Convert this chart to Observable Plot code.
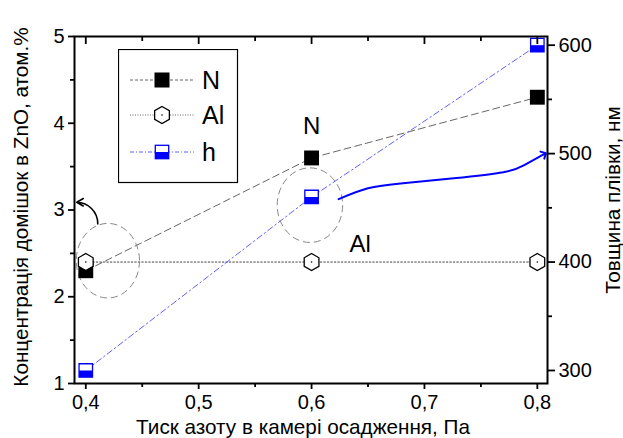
<!DOCTYPE html>
<html><head><meta charset="utf-8">
<script src="https://cdn.jsdelivr.net/npm/d3@7"></script>
<script src="https://cdn.jsdelivr.net/npm/@observablehq/plot@0.6"></script>
<style>
body{margin:0;background:#fff;font-family:"Liberation Sans",Arial,sans-serif;}
#wrap{position:relative;width:623px;height:438px;}
#legend{position:absolute;left:118px;top:49px;}
</style></head><body><div id="wrap"></div>
<script>
// ---- data ----
const pressure = [0.4, 0.6, 0.8];          // Pa
const nConc = [2.3, 3.6, 4.3];             // at.%
const alConc = [2.4, 2.4, 2.4];            // at.%
const thickness = [300, 460, 600];         // nm
const xTicks = [0.4, 0.5, 0.6, 0.7, 0.8];
const xMinor = [0.45, 0.55, 0.65, 0.75];
const yTicks = [1, 2, 3, 4, 5];
const yMinor = [1.5, 2.5, 3.5, 4.5];
const hTicks = [300, 400, 500, 600];
const hMinor = [350, 450, 550];
const hDomain = [288, 608];
// blue annotation curve (thickness trend) points
const curveX = [0.624, 0.650, 0.681, 0.726, 0.770, 0.788, 0.806];
const curveH = [458, 468, 472.6, 477.2, 482.8, 489.2, 499.5];
// dashed ellipses (center x, center y, half-width, half-height in data units)
const ellX = [0.42, 0.599];
const ellY = [2.41, 3.05];
const ellRX = [0.028, 0.029];
const ellRY = [0.43, 0.43];
// black curved arrow
const arrowFrom = [0.4106, 2.84];
const arrowTo = [0.392, 3.09];
const labels = ["N", "Al"];
const labelX = [0.6, 0.643];
const labelY = [3.97, 2.6];

const toL = v => 1 + (v - hDomain[0]) / (hDomain[1] - hDomain[0]) * 4;
const fromL = y => hDomain[0] + (y - 1) / 4 * (hDomain[1] - hDomain[0]);
const comma = d => String(d).replace(".", ",");
const rows = pressure.map((p, i) => ({p, n: nConc[i], al: alConc[i], h: toL(thickness[i])}));
const curveRows = curveX.map((x, i) => ({x, y: toL(curveH[i])}));

const hexSym = {draw(ctx, size) {
  const R = Math.sqrt(size / Math.PI);
  for (let k = 0; k < 6; k++) {
    const a = (-90 + 60 * k) * Math.PI / 180;
    const px = R * Math.cos(a), py = R * Math.sin(a);
    if (k === 0) ctx.moveTo(px, py); else ctx.lineTo(px, py);
  }
  ctx.closePath();
}};
const halfSym = {draw(ctx, size) {
  const w = Math.sqrt(size);
  ctx.rect(-w / 2, 0, w, w / 2);
}};

function ellipses(index, scales) {
  const g = d3.create("svg:g");
  ellX.forEach((x, i) => {
    const cx = scales.x(x), cy = scales.y(ellY[i]);
    g.append("ellipse").attr("cx", cx).attr("cy", cy)
      .attr("rx", Math.abs(scales.x(x + ellRX[i]) - cx))
      .attr("ry", Math.abs(scales.y(ellY[i] + ellRY[i]) - cy))
      .attr("fill", "none").attr("stroke", "#888").attr("stroke-width", 1)
      .attr("stroke-dasharray", "7,4");
  });
  return g.node();
}

const blank = () => "";
const chart = Plot.plot({
  width: 623, height: 438,
  marginLeft: 74, marginRight: 76, marginTop: 36, marginBottom: 55,
  style: {fontFamily: "Liberation Sans, Arial, sans-serif", fontSize: "20px", background: "white"},
  x: {domain: [0.39, 0.809]},
  y: {domain: [1, 5]},
  marks: [
    // data lines
    Plot.line(rows, {x: "p", y: "n", stroke: "#555", strokeWidth: 0.9, strokeDasharray: "7,4"}),
    Plot.line(rows, {x: "p", y: "al", stroke: "#333", strokeWidth: 0.9, strokeDasharray: "1.5,2"}),
    Plot.line(rows, {x: "p", y: "h", stroke: "#4d4dff", strokeWidth: 0.9, strokeDasharray: "6,3,1.5,3"}),
    ellipses,
    Plot.line(curveRows, {x: "x", y: "y", curve: "natural", stroke: "#0000ff", strokeWidth: 2, markerEnd: "arrow"}),
    Plot.arrow([0], {x1: () => arrowFrom[0], y1: () => arrowFrom[1], x2: () => arrowTo[0], y2: () => arrowTo[1],
      bend: -45, stroke: "black", strokeWidth: 1.6, headLength: 7}),
    // markers
    Plot.dot(rows, {x: "p", y: "n", symbol: "square", r: 8.4, fill: "black", stroke: "none"}),
    Plot.dot(rows, {x: "p", y: "al", symbol: hexSym, r: 8.5, fill: "white", stroke: "black", strokeWidth: 1.3}),
    Plot.dot(rows, {x: "p", y: "al", r: 0.8, fill: "black", stroke: "none"}),
    Plot.dot(rows, {x: "p", y: "h", symbol: "square", r: 7.6, fill: "white", stroke: "#0000ff", strokeWidth: 1.3}),
    Plot.dot(rows, {x: "p", y: "h", symbol: halfSym, r: 7.6, fill: "#0000ff", stroke: "none"}),
    // annotations
    Plot.text(labels, {x: (d, i) => labelX[i], y: (d, i) => labelY[i], text: d => d, fontSize: 24, fill: "black"}),
    // frame and axes
    Plot.frame({stroke: "black", strokeWidth: 2}),
    Plot.axisX(xTicks, {anchor: "bottom", tickSize: 6, tickPadding: 5, tickFormat: comma, fontSize: 20, strokeWidth: 1.8, label: null}),
    Plot.axisX(xMinor, {anchor: "bottom", tickSize: 4, tickFormat: blank, strokeWidth: 1.8, label: null}),
    Plot.axisX(xTicks, {anchor: "top", tickSize: 7, dy: 7, tickFormat: blank, strokeWidth: 1.8, label: null}),
    Plot.axisX(xMinor, {anchor: "top", tickSize: 4, dy: 4, tickFormat: blank, strokeWidth: 1.8, label: null}),
    Plot.axisY(yTicks, {anchor: "left", tickSize: 6, tickPadding: 4, fontSize: 20, strokeWidth: 1.8, tickFormat: d => String(d), label: null}),
    Plot.axisY(yMinor, {anchor: "left", tickSize: 4, tickFormat: blank, strokeWidth: 1.8, label: null}),
    Plot.axisY(hTicks.map(toL), {anchor: "right", tickSize: 7, tickPadding: 4, fontSize: 20, strokeWidth: 1.8,
      tickFormat: d => String(Math.round(fromL(d))), label: null}),
    Plot.axisY(hMinor.map(toL), {anchor: "right", tickSize: 4, tickFormat: blank, strokeWidth: 1.8, label: null}),
    // axis titles
    Plot.text(["Концентрація домішок в ZnO, атом.%"], {frameAnchor: "left", dx: -53, dy: -3, rotate: -90, text: d => d,
      textAnchor: "middle", lineAnchor: "middle", fontSize: 20.7}),
    Plot.text(["Товщина плівки, нм"], {frameAnchor: "right", dx: 66, dy: -10, rotate: -90, text: d => d,
      textAnchor: "middle", lineAnchor: "middle", fontSize: 20.7}),
    Plot.text(["Тиск азоту в камері осадження, Па"], {frameAnchor: "bottom", dy: 44, dx: -8, text: d => d,
      textAnchor: "middle", lineAnchor: "middle", fontSize: 20.7})
  ]
});
document.getElementById("wrap").appendChild(chart);

// legend
const legNames = ["N", "Al", "h"];
const lg = d3.select("#wrap").append("svg").attr("id", "legend").attr("width", 121).attr("height", 135);
lg.append("rect").attr("x", 0.5).attr("y", 0.5).attr("width", 119).attr("height", 133).attr("fill", "white").attr("stroke", "black").attr("stroke-width", 1.2);
const rowY = [31, 66, 103];
const lineStyles = [
  {stroke: "#555", dash: "3,2"},
  {stroke: "#555", dash: "1,1.5"},
  {stroke: "#4d4dff", dash: "4,2,1,2"}
];
legNames.forEach((name, i) => {
  const y = rowY[i];
  lg.append("line").attr("x1", 12).attr("x2", 76).attr("y1", y).attr("y2", y)
    .attr("stroke", lineStyles[i].stroke).attr("stroke-width", 0.9).attr("stroke-dasharray", lineStyles[i].dash);
  const cx = 44;
  if (i === 0) {
    lg.append("rect").attr("x", cx - 7.5).attr("y", y - 7.5).attr("width", 15).attr("height", 15).attr("fill", "black");
  } else if (i === 1) {
    const R = 8.5;
    const pts = d3.range(6).map(k => { const a = (-90 + 60 * k) * Math.PI / 180; return [cx + R * Math.cos(a), y + R * Math.sin(a)]; });
    lg.append("polygon").attr("points", pts.map(p => p.join(",")).join(" ")).attr("fill", "white").attr("stroke", "black").attr("stroke-width", 1.3);
    lg.append("circle").attr("cx", cx).attr("cy", y).attr("r", 0.8).attr("fill", "black");
  } else {
    lg.append("rect").attr("x", cx - 6.7).attr("y", y - 6.7).attr("width", 13.4).attr("height", 13.4).attr("fill", "white").attr("stroke", "#0000ff").attr("stroke-width", 1.3);
    lg.append("rect").attr("x", cx - 6.7).attr("y", y).attr("width", 13.4).attr("height", 6.7).attr("fill", "#0000ff");
  }
  lg.append("text").attr("x", 84).attr("y", y).attr("dy", "0.36em").attr("font-size", 25)
    .attr("font-family", "Liberation Sans, Arial, sans-serif").text(name);
});
</script>
</body></html>
